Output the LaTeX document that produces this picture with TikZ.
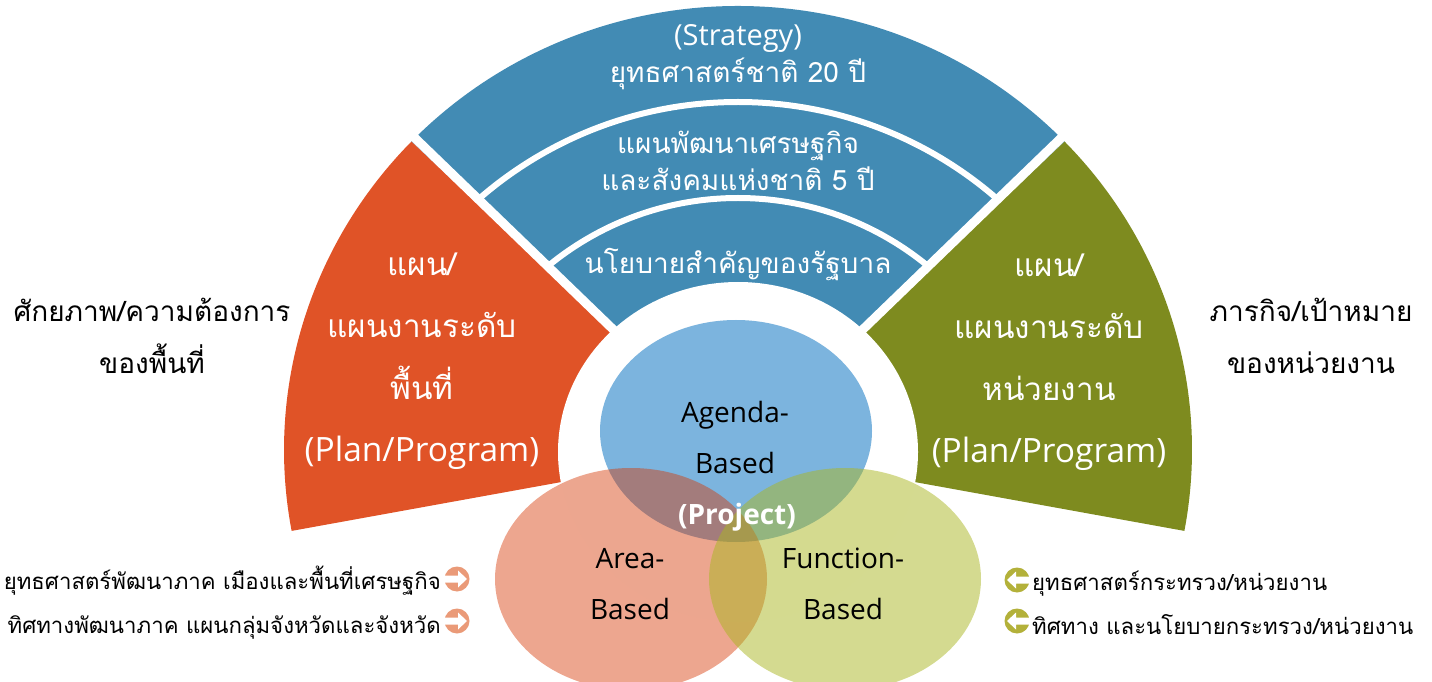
\documentclass[tikz,border=0pt]{standalone}
\usepackage{fontspec}
\setmainfont{Open Sans}
\newfontfamily\thai[Script=Thai]{Loma}

\definecolor{azulbanda}{HTML}{428BB4}
\definecolor{naranjaplan}{HTML}{E05327}
\definecolor{verdeplan}{HTML}{7E8B1F}
\definecolor{azulvenn}{HTML}{7CB4DE}
\definecolor{naranjavenn}{RGB}{214,53,0}
\definecolor{verdevenn}{RGB}{170,182,33}
\definecolor{naranjaicono}{HTML}{EA9A78}
\definecolor{verdeicono}{HTML}{B3B13A}

\tikzset{
  separador/.style={white, line width=9pt},
  lineabanda/.style={white, line width=6pt},
  textobanda/.style={white, align=center, inner sep=0pt, font=\thai\fontsize{28}{37}\selectfont},
  textoplan/.style={white, align=center, inner sep=0pt, font=\fontsize{32}{62}\selectfont},
  textolado/.style={black, align=center, inner sep=0pt, font=\thai\fontsize{28}{52}\selectfont},
  textovenn/.style={black, align=center, inner sep=0pt, font=\fontsize{28}{51}\selectfont},
  textonota/.style={black, inner sep=0pt, font=\thai\fontsize{22.2}{44}\selectfont},
  flecha/.pic={
    \fill (0,0) circle[radius=12.5pt];
    \fill[white] (-13,3.5) -- (1,3.5) -- (1,8.5) -- (10,0) -- (1,-8.5) -- (1,-3.5) -- (-13,-3.5) -- cycle;
  }
}

\begin{document}
\begin{tikzpicture}[x=1pt,y=1pt]
  \useasboundingbox (0,0) rectangle (1432,681);

  % Abanico de planes
  \begin{scope}[shift={(738,231)}]
    % Sector azul (estrategia)
    \fill[azulbanda] (0,0) -- (44:454pt and 444pt) arc[start angle=44, end angle=136, x radius=454pt, y radius=444pt] -- cycle;
    % Sector naranja (area)
    \fill[naranjaplan] (0,0) -- (136:454pt and 444pt) arc[start angle=136, end angle=190.5, x radius=454pt, y radius=444pt] -- cycle;
    % Sector verde (funcion)
    \fill[verdeplan] (0,0) -- (-10.5:454pt and 444pt) arc[start angle=-10.5, end angle=44, x radius=454pt, y radius=444pt] -- cycle;

    % Lineas entre bandas azules
    \begin{scope}
      \clip (0,0) -- (44:480pt) -- (90:480pt) -- (136:480pt) -- cycle;
      \draw[lineabanda] (0,-47) circle[radius=395pt];
      \draw[lineabanda] (0,-47) circle[radius=299pt];
    \end{scope}

    % Cortes entre sectores
    \draw[separador] (0,0) -- (44:480pt);
    \draw[separador] (0,0) -- (136:480pt);

    % Hueco central
    \fill[white] (0,-2) ellipse[x radius=180pt, y radius=170pt];
  \end{scope}

  % Diagrama de Venn
  \fill[azulvenn] (736,250) ellipse[x radius=136pt, y radius=111pt];
  \fill[naranjavenn, fill opacity=0.44] (631,102) ellipse[x radius=136pt, y radius=111pt];
  \fill[verdevenn, fill opacity=0.5] (845,102) ellipse[x radius=136pt, y radius=111pt];

  % Textos de las bandas
  \node[textobanda] (estrategia) at (738,624) {{\rmfamily\fontsize{29}{37}\selectfont (Strategy)}\\ยุทธศาสตร์ชาติ 20 ปี};
  \node[textobanda] (plannacional) at (738,520) {แผนพัฒนาเศรษฐกิจ\\และสังคมแห่งชาติ 5 ปี};
  \node[textobanda] (politica) at (738,416) {นโยบายสำคัญของรัฐบาล};

  % Textos de los sectores
  \node[textoplan] (planarea) at (422,320) {{\thai\fontsize{31.5}{62}\selectfont แผน/}\\{\thai\fontsize{31.5}{62}\selectfont แผนงานระดับ}\\{\thai\fontsize{31.5}{62}\selectfont พื้นที่}\\{\fontsize{33.5}{62}\selectfont (Plan/Program)}};
  \node[textoplan] (planfuncion) at (1049,319) {{\thai\fontsize{31.5}{62}\selectfont แผน/}\\{\thai\fontsize{31.5}{62}\selectfont แผนงานระดับ}\\{\thai\fontsize{31.5}{62}\selectfont หน่วยงาน}\\{\fontsize{33.5}{62}\selectfont (Plan/Program)}};

  % Textos laterales
  \node[textolado] (potencial) at (152,345) {ศักยภาพ/ความต้องการ\\ของพื้นที่};
  \node[textolado] (mision) at (1311,345) {ภารกิจ/เป้าหมาย\\ของหน่วยงาน};

  % Textos del Venn
  \node[textovenn] (agenda) at (735,244) {Agenda-\\Based};
  \node[textovenn, white, font=\bfseries\fontsize{28}{51}\selectfont] (proyecto) at (737,164) {(Project)};
  \node[textovenn] (area) at (630,97) {Area-\\Based};
  \node[textovenn] (funcion) at (843,97) {Function-\\Based};

  % Notas inferiores
  \node[textonota, align=right, anchor=east] (notaarea) at (441,78) {ยุทธศาสตร์พัฒนาภาค เมืองและพื้นที่เศรษฐกิจ\\ทิศทางพัฒนาภาค แผนกลุ่มจังหวัดและจังหวัด};
  \node[textonota, align=left, anchor=west] (notafuncion) at (1032,78) {ยุทธศาสตร์กระทรวง/หน่วยงาน\\ทิศทาง และนโยบายกระทรวง/หน่วยงาน};

  % Flechas
  \pic[naranjaicono] at (457,102) {flecha};
  \pic[naranjaicono] at (457,60) {flecha};
  \pic[verdeicono, rotate=180] at (1017,101) {flecha};
  \pic[verdeicono, rotate=180] at (1017,60) {flecha};
\end{tikzpicture}
\end{document}
